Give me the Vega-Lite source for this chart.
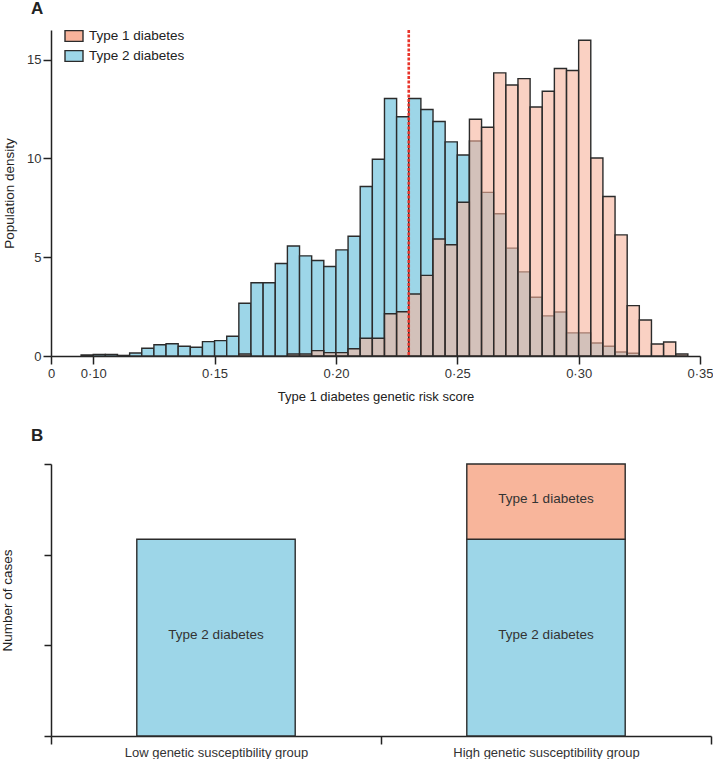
{
  "$schema": "https://vega.github.io/schema/vega-lite/v6.json",
  "padding": {"left": 0, "top": 0, "right": 0, "bottom": 0},
  "background": "white",
  "datasets": {
    "hist": [
      {"type": "Type 2 diabetes", "bin_start": 0.095, "bin_end": 0.100, "density": 0.05},
      {"type": "Type 2 diabetes", "bin_start": 0.100, "bin_end": 0.105, "density": 0.08},
      {"type": "Type 2 diabetes", "bin_start": 0.105, "bin_end": 0.110, "density": 0.08},
      {"type": "Type 2 diabetes", "bin_start": 0.110, "bin_end": 0.115, "density": 0.03},
      {"type": "Type 2 diabetes", "bin_start": 0.115, "bin_end": 0.120, "density": 0.15},
      {"type": "Type 2 diabetes", "bin_start": 0.120, "bin_end": 0.125, "density": 0.39},
      {"type": "Type 2 diabetes", "bin_start": 0.125, "bin_end": 0.130, "density": 0.57},
      {"type": "Type 2 diabetes", "bin_start": 0.130, "bin_end": 0.135, "density": 0.62},
      {"type": "Type 2 diabetes", "bin_start": 0.135, "bin_end": 0.140, "density": 0.49},
      {"type": "Type 2 diabetes", "bin_start": 0.140, "bin_end": 0.145, "density": 0.44},
      {"type": "Type 2 diabetes", "bin_start": 0.145, "bin_end": 0.150, "density": 0.73},
      {"type": "Type 2 diabetes", "bin_start": 0.150, "bin_end": 0.155, "density": 0.78},
      {"type": "Type 2 diabetes", "bin_start": 0.155, "bin_end": 0.160, "density": 1.00},
      {"type": "Type 2 diabetes", "bin_start": 0.160, "bin_end": 0.165, "density": 2.67},
      {"type": "Type 2 diabetes", "bin_start": 0.165, "bin_end": 0.170, "density": 3.71},
      {"type": "Type 2 diabetes", "bin_start": 0.170, "bin_end": 0.175, "density": 3.71},
      {"type": "Type 2 diabetes", "bin_start": 0.175, "bin_end": 0.180, "density": 4.68},
      {"type": "Type 2 diabetes", "bin_start": 0.180, "bin_end": 0.185, "density": 5.57},
      {"type": "Type 2 diabetes", "bin_start": 0.185, "bin_end": 0.190, "density": 5.07},
      {"type": "Type 2 diabetes", "bin_start": 0.190, "bin_end": 0.195, "density": 4.83},
      {"type": "Type 2 diabetes", "bin_start": 0.195, "bin_end": 0.200, "density": 4.53},
      {"type": "Type 2 diabetes", "bin_start": 0.200, "bin_end": 0.205, "density": 5.37},
      {"type": "Type 2 diabetes", "bin_start": 0.205, "bin_end": 0.210, "density": 6.06},
      {"type": "Type 2 diabetes", "bin_start": 0.210, "bin_end": 0.215, "density": 8.58},
      {"type": "Type 2 diabetes", "bin_start": 0.215, "bin_end": 0.220, "density": 9.96},
      {"type": "Type 2 diabetes", "bin_start": 0.220, "bin_end": 0.225, "density": 13.03},
      {"type": "Type 2 diabetes", "bin_start": 0.225, "bin_end": 0.230, "density": 12.11},
      {"type": "Type 2 diabetes", "bin_start": 0.230, "bin_end": 0.235, "density": 13.03},
      {"type": "Type 2 diabetes", "bin_start": 0.235, "bin_end": 0.240, "density": 12.48},
      {"type": "Type 2 diabetes", "bin_start": 0.240, "bin_end": 0.245, "density": 11.87},
      {"type": "Type 2 diabetes", "bin_start": 0.245, "bin_end": 0.250, "density": 10.84},
      {"type": "Type 2 diabetes", "bin_start": 0.250, "bin_end": 0.255, "density": 10.17},
      {"type": "Type 2 diabetes", "bin_start": 0.255, "bin_end": 0.260, "density": 10.88},
      {"type": "Type 2 diabetes", "bin_start": 0.260, "bin_end": 0.265, "density": 8.28},
      {"type": "Type 2 diabetes", "bin_start": 0.265, "bin_end": 0.270, "density": 7.20},
      {"type": "Type 2 diabetes", "bin_start": 0.270, "bin_end": 0.275, "density": 5.46},
      {"type": "Type 2 diabetes", "bin_start": 0.275, "bin_end": 0.280, "density": 4.26},
      {"type": "Type 2 diabetes", "bin_start": 0.280, "bin_end": 0.285, "density": 2.97},
      {"type": "Type 2 diabetes", "bin_start": 0.285, "bin_end": 0.290, "density": 2.03},
      {"type": "Type 2 diabetes", "bin_start": 0.290, "bin_end": 0.295, "density": 2.23},
      {"type": "Type 2 diabetes", "bin_start": 0.295, "bin_end": 0.300, "density": 1.17},
      {"type": "Type 2 diabetes", "bin_start": 0.300, "bin_end": 0.305, "density": 1.17},
      {"type": "Type 2 diabetes", "bin_start": 0.305, "bin_end": 0.310, "density": 0.66},
      {"type": "Type 2 diabetes", "bin_start": 0.310, "bin_end": 0.315, "density": 0.49},
      {"type": "Type 2 diabetes", "bin_start": 0.315, "bin_end": 0.320, "density": 0.20},
      {"type": "Type 2 diabetes", "bin_start": 0.320, "bin_end": 0.325, "density": 0.14},
      {"type": "Type 1 diabetes", "bin_start": 0.160, "bin_end": 0.165, "density": 0.10},
      {"type": "Type 1 diabetes", "bin_start": 0.180, "bin_end": 0.185, "density": 0.10},
      {"type": "Type 1 diabetes", "bin_start": 0.185, "bin_end": 0.190, "density": 0.10},
      {"type": "Type 1 diabetes", "bin_start": 0.190, "bin_end": 0.195, "density": 0.27},
      {"type": "Type 1 diabetes", "bin_start": 0.195, "bin_end": 0.200, "density": 0.17},
      {"type": "Type 1 diabetes", "bin_start": 0.200, "bin_end": 0.205, "density": 0.17},
      {"type": "Type 1 diabetes", "bin_start": 0.205, "bin_end": 0.210, "density": 0.37},
      {"type": "Type 1 diabetes", "bin_start": 0.210, "bin_end": 0.215, "density": 0.90},
      {"type": "Type 1 diabetes", "bin_start": 0.215, "bin_end": 0.220, "density": 0.90},
      {"type": "Type 1 diabetes", "bin_start": 0.220, "bin_end": 0.225, "density": 2.14},
      {"type": "Type 1 diabetes", "bin_start": 0.225, "bin_end": 0.230, "density": 2.24},
      {"type": "Type 1 diabetes", "bin_start": 0.230, "bin_end": 0.235, "density": 3.14},
      {"type": "Type 1 diabetes", "bin_start": 0.235, "bin_end": 0.240, "density": 4.08},
      {"type": "Type 1 diabetes", "bin_start": 0.240, "bin_end": 0.245, "density": 5.92},
      {"type": "Type 1 diabetes", "bin_start": 0.245, "bin_end": 0.250, "density": 5.63},
      {"type": "Type 1 diabetes", "bin_start": 0.250, "bin_end": 0.255, "density": 7.78},
      {"type": "Type 1 diabetes", "bin_start": 0.255, "bin_end": 0.260, "density": 11.98},
      {"type": "Type 1 diabetes", "bin_start": 0.260, "bin_end": 0.265, "density": 11.58},
      {"type": "Type 1 diabetes", "bin_start": 0.265, "bin_end": 0.270, "density": 14.33},
      {"type": "Type 1 diabetes", "bin_start": 0.270, "bin_end": 0.275, "density": 13.72},
      {"type": "Type 1 diabetes", "bin_start": 0.275, "bin_end": 0.280, "density": 14.04},
      {"type": "Type 1 diabetes", "bin_start": 0.280, "bin_end": 0.285, "density": 12.60},
      {"type": "Type 1 diabetes", "bin_start": 0.285, "bin_end": 0.290, "density": 13.40},
      {"type": "Type 1 diabetes", "bin_start": 0.290, "bin_end": 0.295, "density": 14.55},
      {"type": "Type 1 diabetes", "bin_start": 0.295, "bin_end": 0.300, "density": 14.45},
      {"type": "Type 1 diabetes", "bin_start": 0.300, "bin_end": 0.305, "density": 15.98},
      {"type": "Type 1 diabetes", "bin_start": 0.305, "bin_end": 0.310, "density": 10.02},
      {"type": "Type 1 diabetes", "bin_start": 0.310, "bin_end": 0.315, "density": 8.07},
      {"type": "Type 1 diabetes", "bin_start": 0.315, "bin_end": 0.320, "density": 6.13},
      {"type": "Type 1 diabetes", "bin_start": 0.320, "bin_end": 0.325, "density": 2.55},
      {"type": "Type 1 diabetes", "bin_start": 0.325, "bin_end": 0.330, "density": 1.82},
      {"type": "Type 1 diabetes", "bin_start": 0.330, "bin_end": 0.335, "density": 0.61},
      {"type": "Type 1 diabetes", "bin_start": 0.335, "bin_end": 0.340, "density": 0.71},
      {"type": "Type 1 diabetes", "bin_start": 0.340, "bin_end": 0.345, "density": 0.10}
    ],
    "threshold": [{"score": 0.23}],
    "cases": [
      {"group": "Low genetic susceptibility group", "type": "Type 2 diabetes", "cases": 2.17},
      {"group": "High genetic susceptibility group", "type": "Type 2 diabetes", "cases": 2.17},
      {"group": "High genetic susceptibility group", "type": "Type 1 diabetes", "cases": 0.83}
    ]
  },
  "vconcat": [
    {
      "width": 649,
      "height": 326,
      "title": {"text": "A", "anchor": "start", "frame": "group", "dx": -20, "offset": 8, "fontSize": 17, "fontWeight": "bold", "font": "Liberation Sans", "color": "#222"},
      "layer": [
        {
          "data": {"name": "hist"},
          "transform": [{"filter": "datum.type === 'Type 2 diabetes'"}],
          "mark": {"type": "bar", "stroke": "#2b2b2b", "strokeWidth": 1.4, "fillOpacity": 1},
          "encoding": {
            "x": {"field": "bin_start", "type": "quantitative", "scale": {"domain": [0.0826, 0.35], "nice": false, "zero": false},
              "axis": {"values": [0.0826, 0.10, 0.15, 0.20, 0.25, 0.30, 0.35], "labelExpr": "datum.value < 0.09 ? '0' : replace(format(datum.value, '.2f'), '.', '·')", "labelFlush": false, "labelOverlap": false, "labelBound": false, "tickSize": 8, "labelPadding": 3, "title": "Type 1 diabetes genetic risk score", "titlePadding": 10, "titleFontSize": 13}},
            "x2": {"field": "bin_end"},
            "y": {"field": "density", "type": "quantitative", "scale": {"domain": [0, 16.5], "nice": false},
              "axis": {"values": [0, 5, 10, 15], "tickSize": 8, "labelPadding": 2, "title": "Population density", "titlePadding": 10}},
            "y2": {"datum": 0},
            "color": {"field": "type", "type": "nominal",
              "scale": {"domain": ["Type 1 diabetes", "Type 2 diabetes"], "range": ["#f7b39b", "#9dd6e8"]},
              "legend": {"orient": "none", "legendX": 13, "legendY": -4, "title": null, "symbolType": "M-1,-0.6L1,-0.6L1,0.6L-1,0.6Z", "symbolSize": 324, "symbolStrokeColor": "#2b2b2b", "symbolStrokeWidth": 1.4, "symbolOpacity": 1, "labelFontSize": 13.5, "labelColor": "#222", "rowPadding": 1, "labelOffset": 5}}
          }
        },
        {
          "data": {"name": "hist"},
          "transform": [{"filter": "datum.type === 'Type 1 diabetes'"}],
          "mark": {"type": "bar", "stroke": "#2b2b2b", "strokeWidth": 1.4, "fillOpacity": 0.6},
          "encoding": {
            "x": {"field": "bin_start", "type": "quantitative"},
            "x2": {"field": "bin_end"},
            "y": {"field": "density", "type": "quantitative"},
            "y2": {"datum": 0},
            "color": {"field": "type", "type": "nominal"}
          }
        },
        {
          "data": {"name": "threshold"},
          "mark": {"type": "rule", "color": "#e8342a", "strokeWidth": 2.6, "strokeDash": [3, 1.6]},
          "encoding": {"x": {"field": "score", "type": "quantitative"}}
        }
      ]
    },
    {
      "width": 660,
      "height": 272,
      "title": {"text": "B", "anchor": "start", "frame": "group", "dx": -20, "offset": 18, "fontSize": 17, "fontWeight": "bold", "font": "Liberation Sans", "color": "#222"},
      "data": {"name": "cases"},
      "encoding": {
        "x": {"field": "group", "type": "nominal", "sort": ["Low genetic susceptibility group", "High genetic susceptibility group"],
          "scale": {"paddingInner": 0, "paddingOuter": 0},
          "axis": {"title": null, "labelAngle": 0, "labelLimit": 0, "tickBand": "extent", "tickSize": 8, "labelPadding": 2, "labelFontSize": 13, "labelFont": "Liberation Sans Narrow, Liberation Sans"}},
        "y": {"field": "cases", "type": "quantitative", "stack": "zero", "scale": {"domain": [0, 3], "nice": false},
          "axis": {"values": [0, 1, 2, 3], "labels": false, "tickSize": 7, "title": "Number of cases", "titlePadding": 29}},
        "order": {"field": "type", "sort": "descending"}
      },
      "layer": [
        {
          "mark": {"type": "bar", "stroke": "#2b2b2b", "strokeWidth": 1.4, "width": {"band": 0.48}},
          "encoding": {
            "color": {"field": "type", "type": "nominal",
              "scale": {"domain": ["Type 1 diabetes", "Type 2 diabetes"], "range": ["#f8b59b", "#9dd6e8"]}, "legend": null}
          }
        },
        {
          "mark": {"type": "text", "fontSize": 13.5, "color": "#333", "dy": -3},
          "encoding": {
            "y": {"field": "cases", "type": "quantitative", "stack": "zero", "bandPosition": 0.5},
            "text": {"field": "type"}
          }
        }
      ]
    }
  ],
  "spacing": 24,
  "resolve": {"scale": {"color": "independent"}, "legend": {"color": "independent"}},
  "config": {
    "font": "Liberation Sans Narrow, Liberation Sans",
    "view": {"stroke": null},
    "axis": {"grid": false, "domainColor": "#222", "tickColor": "#222", "domainWidth": 1.5, "tickWidth": 1.5, "labelColor": "#333", "labelFontSize": 13, "titleColor": "#222", "titleFontSize": 14, "titleFontWeight": "normal", "labelFont": "Liberation Sans", "titleFont": "Liberation Sans Narrow, Liberation Sans"},
    "axisY": {"titleFont": "Liberation Sans", "titleFontSize": 13.5},
    "legend": {"labelFont": "Liberation Sans Narrow, Liberation Sans"}
  }
}
